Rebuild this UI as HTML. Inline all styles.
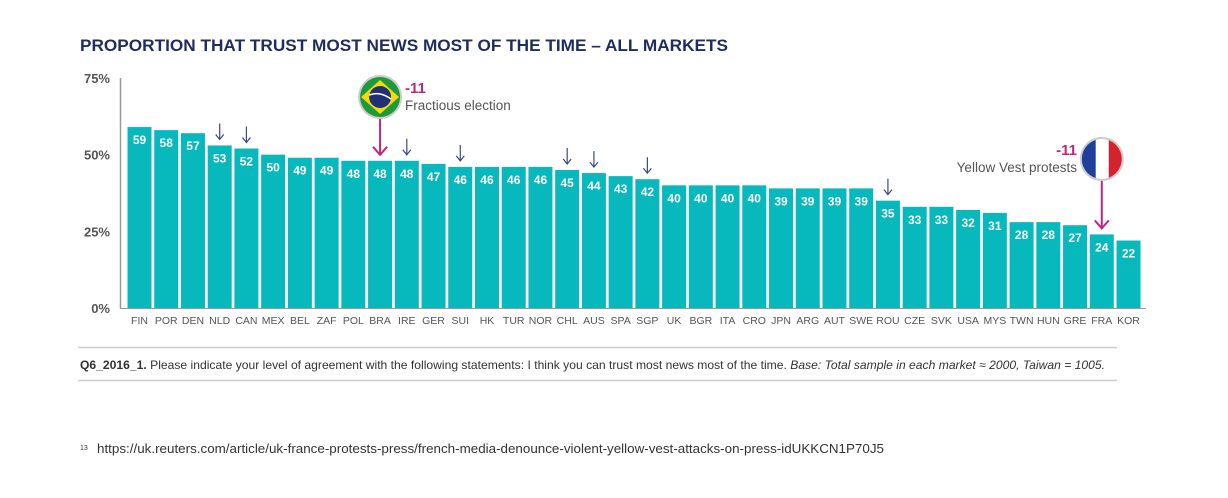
<!DOCTYPE html>
<html><head><meta charset="utf-8">
<style>
body{margin:0;width:1228px;height:498px;background:#fff;overflow:hidden;font-family:"Liberation Sans",sans-serif;}
svg{position:absolute;left:0;top:0}
</style></head>
<body>
<svg width="1228" height="498">
<text x="80" y="51" font-size="17" font-weight="bold" fill="#1f2d5e" textLength="648" lengthAdjust="spacingAndGlyphs">PROPORTION THAT TRUST MOST NEWS MOST OF THE TIME – ALL MARKETS</text>
<g id="ax"></g>
<g id="bars"></g>
<g id="ann"></g>
<line x1="78" y1="347.5" x2="1117" y2="347.5" stroke="#ccc" stroke-width="1.5"/>
<text x="80" y="369" font-size="12" fill="#333" textLength="1025" lengthAdjust="spacingAndGlyphs"><tspan font-weight="bold">Q6_2016_1.</tspan> Please indicate your level of agreement with the following statements: I think you can trust most news most of the time. <tspan font-style="italic">Base: Total sample in each market ≈ 2000, Taiwan = 1005.</tspan></text>
<line x1="78" y1="380.5" x2="1117" y2="380.5" stroke="#ccc" stroke-width="1.5"/>
<text x="80" y="450" font-size="7" fill="#333">13</text>
<text x="97" y="453" font-size="12.5" fill="#333" textLength="787" lengthAdjust="spacingAndGlyphs">https://uk.reuters.com/article/uk-france-protests-press/french-media-denounce-violent-yellow-vest-attacks-on-press-idUKKCN1P70J5</text>
</svg>
<script>
const categories=["FIN","POR","DEN","NLD","CAN","MEX","BEL","ZAF","POL","BRA","IRE","GER","SUI","HK","TUR","NOR","CHL","AUS","SPA","SGP","UK","BGR","ITA","CRO","JPN","ARG","AUT","SWE","ROU","CZE","SVK","USA","MYS","TWN","HUN","GRE","FRA","KOR"];
const values=[59,58,57,53,52,50,49,49,48,48,48,47,46,46,46,46,45,44,43,42,40,40,40,40,39,39,39,39,35,33,33,32,31,28,28,27,24,22];
const downMarkets=["NLD","CAN","IRE","SUI","CHL","AUS","SGP","ROU"];
const yTicks=[0,25,50,75];
const NS="http://www.w3.org/2000/svg";
const x0=127.5,slot=26.73,bw=24,y0=308,yMax=75,yTop=78;
const Y=v=>y0-(v/yMax)*(y0-yTop);
const X=i=>x0+i*slot;
function mk(tag,attrs,parent){const e=document.createElementNS(NS,tag);for(const k in attrs)e.setAttribute(k,attrs[k]);parent.appendChild(e);return e;}
const ax=document.getElementById('ax'),bars=document.getElementById('bars'),ann=document.getElementById('ann');
let l=mk('line',{x1:120.5,y1:yTop,x2:120.5,y2:y0+0.5,stroke:'#999','stroke-width':1.5},ax);


l=mk('line',{x1:120,y1:y0+0.5,x2:1146,y2:y0+0.5,stroke:'#999','stroke-width':1},ax);


yTicks.forEach(t=>{const e=mk('text',{x:110,y:Y(t)+5,'text-anchor':'end','font-size':13,'font-weight':'bold',fill:'#555'},ax);e.textContent=t+'%';

});
categories.forEach((c,i)=>{
 const v=values[i],x=X(i);
 const r=mk('rect',{x:x,y:Y(v),width:bw,height:y0-Y(v),fill:'#07b8bd'},bars);
 
 
 const t=mk('text',{x:x+bw/2,y:Y(v)+17,'text-anchor':'middle','font-size':12,'font-weight':'bold',fill:'#fff'},bars);t.textContent=v;
 
 
 const lb=mk('text',{x:x+bw/2,y:324,'text-anchor':'middle','font-size':10.5,fill:'#555'},bars);lb.textContent=c;
 
 
 if(downMarkets.includes(c)){
  const top=Y(v)-22,bot=Y(v)-6,cx=x+bw/2;
  const a=mk('path',{d:`M${cx},${top}V${bot}M${cx-4},${bot-5}L${cx},${bot}L${cx+4},${bot-5}`,stroke:'#3d4a7a','stroke-width':1.2,fill:'none'},ann);
  
  
 }
});
function flagCallout(idx,cy,kind,labelX,anchor,label){
 const cx=X(idx)+bw/2,r=20;
 const g=mk('g',{},ann);
 
 
 const bot=Y(values[idx])-6;
 mk('path',{d:`M${cx},${cy+r}V${bot}M${cx-7},${bot-8}L${cx},${bot}L${cx+7},${bot-8}`,stroke:'#c0267e','stroke-width':2,fill:'none'},g);
 mk('circle',{cx:cx,cy:cy,r:r+2,fill:'#ccc'},g);
 if(kind==='brazil'){
  mk('circle',{cx:cx,cy:cy,r:r,fill:'#1d9a3a'},g);
  mk('polygon',{points:`${cx},${cy-17} ${cx+19},${cy} ${cx},${cy+17} ${cx-19},${cy}`,fill:'#f5d90a'},g);
  mk('circle',{cx:cx,cy:cy,r:11,fill:'#1f2f78'},g);
  mk('path',{d:`M${cx-11},${cy-2}Q${cx},${cy-6} ${cx+11},${cy+2}`,stroke:'#fff','stroke-width':1.5,fill:'none'},g);
 }else{
  const cp=mk('clipPath',{id:'fc'},g);mk('circle',{cx:cx,cy:cy,r:r},cp);
  mk('rect',{x:cx-r,y:cy-r,width:14,height:40,fill:'#1f3f9a','clip-path':'url(#fc)'},g);
  mk('rect',{x:cx-6,y:cy-r,width:13,height:40,fill:'#fff','clip-path':'url(#fc)'},g);
  mk('rect',{x:cx+7,y:cy-r,width:14,height:40,fill:'#d4222f','clip-path':'url(#fc)'},g);
 }
 const t1=mk('text',{x:labelX,y:cy-4,'text-anchor':anchor,'font-size':15,'font-weight':'bold',fill:'#c0267e'},g);t1.textContent='-11';
 const t2=mk('text',{x:labelX,y:cy+13,'text-anchor':anchor,'font-size':13.5,fill:'#555'},g);t2.textContent=label;
}
flagCallout(categories.indexOf('BRA'),97,'brazil',405,'start','Fractious election');
flagCallout(categories.indexOf('FRA'),159,'france',1077,'end','Yellow Vest protests');
</script>
</body></html>
